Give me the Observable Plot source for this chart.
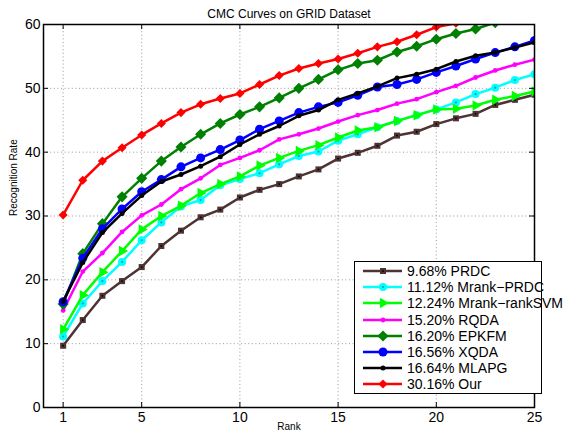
<!DOCTYPE html>
<html><head><meta charset="utf-8">
<script src="https://cdn.jsdelivr.net/npm/d3@7"></script>
<script src="https://cdn.jsdelivr.net/npm/@observablehq/plot@0.6"></script>
<style>
body{margin:0;background:#fff;}
#wrap{position:relative;width:565px;height:440px;font-family:"Liberation Sans",Arial,sans-serif;}
#legend{position:absolute;left:354px;top:261px;width:186px;height:130px;border:1.3px solid #000;background:#fff;padding-top:1px;}
.row{height:16.2px;display:flex;align-items:center;font-size:14px;white-space:nowrap;color:#000}
.row svg{flex:none}
</style></head><body><div id="wrap"><div id="legend"></div></div>
<script>
const ranks = [1,2,3,4,5,6,7,8,9,10,11,12,13,14,15,16,17,18,19,20,21,22,23,24,25];
const prdc = [9.68,13.7,17.5,19.8,22.0,25.3,27.7,29.8,31.0,32.9,34.1,35.0,36.2,37.3,39.0,39.9,41.0,42.6,43.2,44.4,45.3,46.0,47.4,48.2,49.0];
const mrankPrdc = [11.12,16.3,19.8,22.8,26.2,29.0,31.5,32.5,34.8,35.8,36.7,38.1,39.4,40.1,41.8,42.8,43.9,44.9,45.8,46.7,47.8,49.1,50.1,51.3,52.2];
const mrankSvm = [12.24,17.6,21.2,24.5,27.9,30.0,31.6,33.6,35.0,36.2,37.9,39.1,40.2,41.1,42.3,43.4,43.9,44.9,45.8,46.7,46.8,47.3,48.2,48.8,49.5];
const rqda = [15.20,21.3,24.2,27.5,30.1,31.8,34.2,35.9,38.0,39.1,40.3,42.0,42.8,43.7,44.8,45.8,46.6,47.6,48.3,49.4,50.4,51.7,52.8,53.7,54.5];
const epkfm = [16.20,24.1,28.8,33.0,35.9,38.6,40.8,42.8,44.5,45.9,47.1,48.5,50.0,51.4,52.9,53.9,54.4,55.7,56.6,57.7,58.6,59.3,60.3,61.2,62.0];
const xqda = [16.56,23.4,28.0,31.1,33.8,35.7,37.7,39.1,40.4,41.9,43.6,44.9,46.2,47.1,47.8,48.9,50.2,50.6,51.4,52.5,53.5,54.6,55.6,56.5,57.5];
const mlapg = [16.64,22.7,27.4,30.4,33.2,35.4,36.5,37.8,39.3,41.2,42.8,44.1,45.7,46.6,48.2,49.2,50.3,51.6,52.2,53.0,54.2,55.1,55.6,56.4,57.2];
const ours = [30.16,35.6,38.6,40.7,42.7,44.5,46.2,47.5,48.4,49.2,50.6,52.0,53.1,53.9,54.6,55.5,56.5,57.3,58.4,59.6,60.2,61.0,61.8,62.5,63.2];

const seriesNames = ["9.68% PRDC","11.12% Mrank\u2212PRDC","12.24% Mrank\u2212rankSVM","15.20% RQDA","16.20% EPKFM","16.56% XQDA","16.64% MLAPG","30.16% Our"];
const seriesValues = [prdc, mrankPrdc, mrankSvm, rqda, epkfm, xqda, mlapg, ours];
const xTicks = [1,5,10,15,20,25];
const yTicks = [0,10,20,30,40,50,60];
const title = "CMC Curves on GRID Dataset";
const xLabel = "Rank";
const yLabel = "Recognition Rate";

const colors = ["#4d3333","#00ffff","#00ff00","#ff00ff","#008000","#0000ff","#000000","#ff0000"];
const styles = [
  {symbol:"square", r:3.4, inner:"#000", innerR:0.9},
  {symbol:"circle", r:4.0, inner:"#00a8a8", innerR:1.1},
  {symbol:"triangle", r:3.9, rotate:90},
  {symbol:"circle", r:2.4},
  {symbol:"diamond2", r:5.0},
  {symbol:"circle", r:4.5},
  {symbol:"circle", r:2.5},
  {symbol:"diamond2", r:4.1}
];

const tables = seriesNames.map((name, i) => ranks.map((r, j) => ({series: name, rank: r, rate: seriesValues[i][j]})));

const seriesMarks = [];
tables.forEach((t, i) => {
  const s = styles[i];
  seriesMarks.push(Plot.line(t, {x: "rank", y: "rate", stroke: colors[i], strokeWidth: 2.5, clip: true}));
  seriesMarks.push(Plot.dot(t, {x: "rank", y: "rate", symbol: s.symbol, r: s.r, fill: colors[i], stroke: "none", rotate: s.rotate || 0, clip: true}));
  if (s.inner) seriesMarks.push(Plot.dot(t, {x: "rank", y: "rate", r: s.innerR, fill: s.inner, stroke: "none", clip: true}));
});

const chart = Plot.plot({
  width: 565, height: 440,
  marginTop: 24, marginBottom: 33, marginLeft: 43, marginRight: 31,
  style: {fontFamily: "'Liberation Sans', Arial, sans-serif", fontSize: "14px", background: "transparent", color: "#000"},
  x: {domain: [0, 25], ticks: xTicks},
  y: {domain: [0, 60], ticks: yTicks},
  marks: [
    Plot.gridX(xTicks, {stroke: "#999", strokeOpacity: 1, strokeDasharray: "1,2.6"}),
    Plot.gridY(yTicks, {stroke: "#999", strokeOpacity: 1, strokeDasharray: "1,2.6"}),
    ...seriesMarks,
    Plot.tickX(xTicks, {x: d => d, insetTop: 378, stroke: "#000", strokeWidth: 1}),
    Plot.tickX(xTicks, {x: d => d, insetBottom: 378, stroke: "#000", strokeWidth: 1}),
    Plot.tickY(yTicks, {y: d => d, insetRight: 486, stroke: "#000", strokeWidth: 1}),
    Plot.tickY(yTicks, {y: d => d, insetLeft: 486, stroke: "#000", strokeWidth: 1}),
    Plot.frame({stroke: "#000", strokeWidth: 1.5}),
    Plot.axisX(xTicks, {tickSize: 0, tickPadding: 5, fontSize: 14, label: null}),
    Plot.axisY(yTicks, {tickSize: 0, tickPadding: 3, fontSize: 14, label: null}),
    Plot.text([title], {text: d => d, frameAnchor: "top", dy: -15, fontSize: 12}),
    Plot.text([xLabel], {text: d => d, frameAnchor: "bottom", dy: 22, fontSize: 10}),
    Plot.text([yLabel], {text: d => d, frameAnchor: "left", dx: -30, rotate: -90, fontSize: 10})
  ]
});
const wrap = document.getElementById("wrap");
wrap.insertBefore(chart, wrap.firstChild);

// legend
const legend = document.getElementById("legend");
const symMap = {square: d3.symbolSquare, circle: d3.symbolCircle, triangle: d3.symbolTriangle, diamond2: d3.symbolDiamond2};
seriesNames.forEach((name, i) => {
  const s = styles[i];
  const row = document.createElement("div");
  row.className = "row";
  const svg = d3.create("svg").attr("width", 52).attr("height", 16);
  svg.append("line").attr("x1", 8).attr("x2", 47).attr("y1", 8).attr("y2", 8).attr("stroke", colors[i]).attr("stroke-width", 2.5);
  svg.append("path").attr("d", d3.symbol(symMap[s.symbol], Math.PI * s.r * s.r)())
    .attr("transform", `translate(28,8) rotate(${s.rotate || 0})`).attr("fill", colors[i]);
  if (s.inner) svg.append("circle").attr("cx", 28).attr("cy", 8).attr("r", s.innerR).attr("fill", s.inner);
  row.appendChild(svg.node());
  const span = document.createElement("span");
  span.textContent = name;
  row.appendChild(span);
  legend.appendChild(row);
});
</script></body></html>
